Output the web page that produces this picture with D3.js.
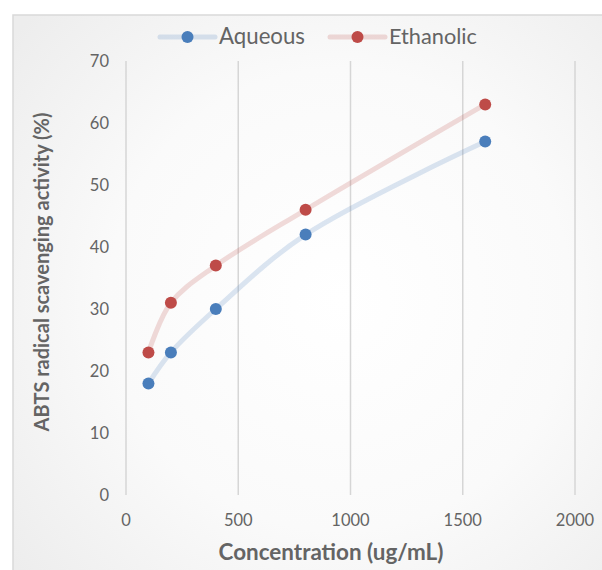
<!DOCTYPE html>
<html><head><meta charset="utf-8">
<script src="https://cdn.jsdelivr.net/npm/d3@7"></script>
<style>html,body{margin:0;padding:0;background:#fff;}svg{display:block;}</style>
</head><body>
<svg id="c" width="602" height="570"></svg>
<script>
const concentrations = [100, 200, 400, 800, 1600];
const aqueous = [18, 23, 30, 42, 57];
const ethanolic = [23, 31, 37, 46, 63];
const seriesNames = ["Aqueous", "Ethanolic"];
const xTicks = [0, 500, 1000, 1500, 2000];
const yTicks = [0, 10, 20, 30, 40, 50, 60, 70];

const svg = d3.select("#c");
const FONT = "Lato, 'Open Sans', sans-serif";
const TXT = "#646464";

function fit(sel, target){
  const n = sel.node();
  const fs = parseFloat(sel.attr("font-size"));
  const len = n.getComputedTextLength();
  if (len > 0) sel.attr("font-size", (fs*target/len).toFixed(2));
  return sel;
}

const defs = svg.append("defs");
const rg = defs.append("radialGradient").attr("id","bg")
  .attr("cx", 340).attr("cy", 300).attr("r", 420).attr("gradientUnits","userSpaceOnUse");
rg.append("stop").attr("offset","0%").attr("stop-color","#ffffff");
rg.append("stop").attr("offset","55%").attr("stop-color","#fafafa");
rg.append("stop").attr("offset","100%").attr("stop-color","#ededed");

svg.append("rect").attr("x",13).attr("y",15).attr("width",620).attr("height",600)
  .attr("fill","url(#bg)").attr("stroke","#d9d9d9").attr("stroke-width",1.5);

const x = d3.scaleLinear().domain([0,2000]).range([126,575]);
const y = d3.scaleLinear().domain([0,70]).range([495,61]);

svg.append("g").selectAll("line").data(xTicks).join("line")
  .attr("x1", d=>x(d)).attr("x2", d=>x(d)).attr("y1", y(0)).attr("y2", y(70))
  .attr("stroke","#d6d6d6").attr("stroke-width",1.5);

svg.append("g").selectAll("text").data(xTicks).join("text")
  .attr("x", d=>x(d)).attr("y", 526).attr("text-anchor","middle")
  .attr("font-family",FONT).attr("font-size",16.5).attr("fill",TXT).text(d=>d);

svg.append("g").selectAll("text").data(yTicks).join("text")
  .attr("x", 109).attr("y", d=>y(d)+6).attr("text-anchor","end")
  .attr("font-family",FONT).attr("font-size",16.5).attr("fill",TXT).text(d=>d);

const xt = svg.append("text").attr("x",331).attr("y",560).attr("text-anchor","middle")
  .attr("font-family",FONT).attr("font-weight","bold").attr("font-size",19)
  .attr("fill",TXT).text("Concentration (ug/mL)");
fit(xt, 225);
const yt = svg.append("text").attr("transform","translate(49,272) rotate(-90)").attr("text-anchor","middle")
  .attr("font-family",FONT).attr("font-weight","bold").attr("font-size",17)
  .attr("fill",TXT).text("ABTS radical scavenging activity (%)");
fit(yt, 319);

const series = [
  {name: seriesNames[0], values: aqueous, line:"#4f81bd", dot:"#4a7ebb"},
  {name: seriesNames[1], values: ethanolic, line:"#c0504d", dot:"#be4b48"}
];

const lineGen = d3.line().x(d=>x(d[0])).y(d=>y(d[1])).curve(d3.curveCatmullRom.alpha(0.5));

series.forEach(s=>{
  const pts = concentrations.map((c,i)=>[c, s.values[i]]);
  svg.append("path").attr("d", lineGen(pts)).attr("fill","none")
    .attr("stroke", s.line).attr("stroke-opacity",0.2).attr("stroke-width",5)
    .attr("stroke-linecap","round");
});
series.forEach(s=>{
  const pts = concentrations.map((c,i)=>[c, s.values[i]]);
  svg.append("g").selectAll("circle").data(pts).join("circle")
    .attr("cx", d=>x(d[0])).attr("cy", d=>y(d[1])).attr("r",6).attr("fill", s.dot);
});

const legX = [160, 330];
const legW = [86, 88];
series.forEach((s,i)=>{
  const g = svg.append("g");
  g.append("line").attr("x1",legX[i]).attr("x2",legX[i]+55).attr("y1",37).attr("y2",37)
    .attr("stroke", s.line).attr("stroke-opacity",0.2).attr("stroke-width",5).attr("stroke-linecap","round");
  g.append("circle").attr("cx",legX[i]+27.5).attr("cy",37).attr("r",6).attr("fill",s.dot);
  const t = g.append("text").attr("x",legX[i]+59).attr("y",44).attr("font-family",FONT).attr("font-size",21)
    .attr("fill",TXT).text(s.name);
  fit(t, legW[i]);
});
</script>
</body></html>
